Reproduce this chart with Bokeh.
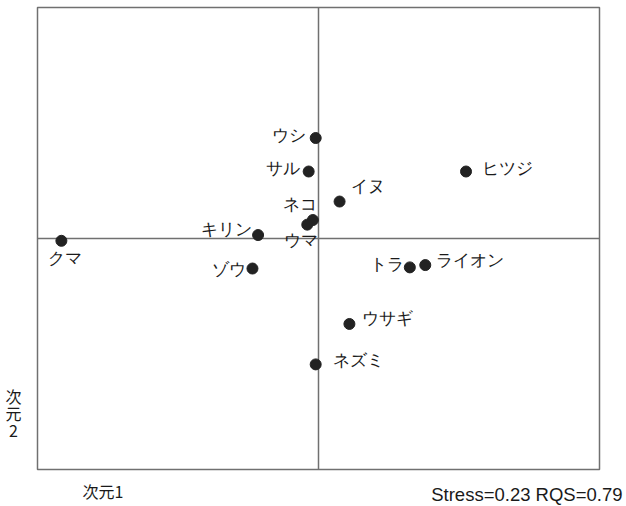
from bokeh.plotting import figure
from bokeh.models import ColumnDataSource, Label, LabelSet
from bokeh.embed import file_html
from bokeh.resources import INLINE

# Data: MDS coordinates (dimension 1, dimension 2)
animals = ["クマ", "キリン", "ネコ", "ウマ", "ゾウ", "ウシ", "サル", "イヌ",
           "ヒツジ", "トラ", "ライオン", "ウサギ", "ネズミ"]
dim1 = [-1.83, -0.43, -0.04, -0.08, -0.47, -0.02, -0.07, 0.15, 1.05, 0.65, 0.76, 0.22, -0.02]
dim2 = [-0.02, 0.03, 0.16, 0.12, -0.26, 0.87, 0.58, 0.32, 0.58, -0.25, -0.23, -0.74, -1.09]
stats_text = "Stress=0.23 RQS=0.79"
x_title = "次元1"
y_title = "次\n元\n2"

# plotting box (data units) and its pixel margins on the canvas
W, H = 626, 506
box = (-2.0, 2.0, -2.0, 2.0)
m_left, m_right, m_top, m_bottom = 37, 27, 7, 37
sx = (W - m_left - m_right) / (box[1] - box[0])
sy = (H - m_top - m_bottom) / (box[3] - box[2])
xr = (box[0] - m_left / sx, box[1] + m_right / sx)
yr = (box[2] - m_bottom / sy, box[3] + m_top / sy)

# label placement (screen px offsets; y positive = up) and alignment
placement = {
    "クマ": (-13, -18, "left"),
    "キリン": (-6, 6, "right"),
    "ネコ": (4, 16, "right"),
    "ウマ": (11, -16, "right"),
    "ゾウ": (-6, -1, "right"),
    "ウシ": (-10, 3, "right"),
    "サル": (-9, 3, "right"),
    "イヌ": (11, 15, "left"),
    "ヒツジ": (16, 3, "left"),
    "トラ": (-6, 3, "right"),
    "ライオン": (11, 5, "left"),
    "ウサギ": (13, 5, "left"),
    "ネズミ": (17, 4, "left"),
}

src = ColumnDataSource(dict(
    x=dim1, y=dim2, name=animals,
    dx=[placement[a][0] for a in animals],
    dy=[placement[a][1] for a in animals],
    align=[placement[a][2] for a in animals],
))

p = figure(width=W, height=H, output_backend="svg", toolbar_location=None,
           x_range=xr, y_range=yr, min_border=0)
p.xaxis.visible = False
p.yaxis.visible = False
p.grid.visible = False
p.outline_line_color = None
p.background_fill_color = "white"
p.border_fill_color = "white"

# frame box and zero lines
gray = "#707070"
p.quad(left=[box[0]], right=[box[1]], bottom=[box[2]], top=[box[3]],
       fill_color=None, line_color=gray, line_width=1.5)
p.segment(x0=[box[0], 0], y0=[0, box[2]], x1=[box[1], 0], y1=[0, box[3]],
          line_color=gray, line_width=1.5)

p.scatter("x", "y", source=src, size=11, color="#222222")

labels = LabelSet(x="x", y="y", text="name", source=src, x_offset="dx", y_offset="dy",
                  text_align="align", text_baseline="middle",
                  text_font="Noto Sans CJK JP", text_font_size="17px", text_color="#1a1a1a")
p.add_layout(labels)

p.add_layout(Label(x=box[0], y=box[2], x_offset=45, y_offset=-21, text=x_title,
                   text_baseline="middle",
                   text_font="Noto Sans CJK JP", text_font_size="16px", text_color="#1a1a1a"))
p.add_layout(Label(x=box[0], y=box[2], x_offset=-24, y_offset=86, text=y_title,
                   text_baseline="top", text_align="center", text_line_height=0.72,
                   text_font="Noto Sans CJK JP", text_font_size="16px", text_color="#1a1a1a"))
p.add_layout(Label(x=box[1], y=box[2], x_offset=23, y_offset=-25, text=stats_text,
                   text_baseline="middle", text_align="right",
                   text_font="Liberation Sans", text_font_size="18.5px", text_color="#1a1a1a"))

open("out.html", "w").write(file_html(p, INLINE))
